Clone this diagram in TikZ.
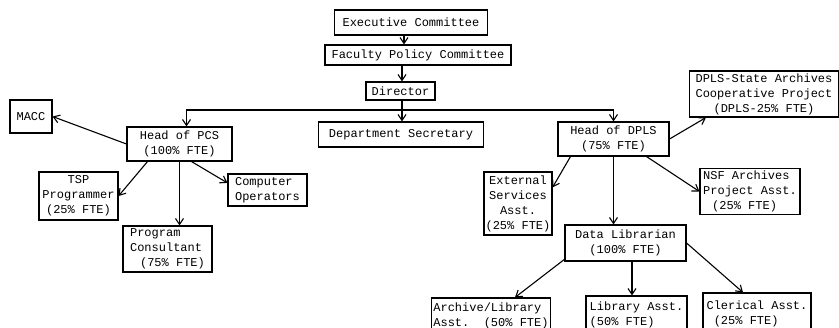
\documentclass[tikz,border=0pt]{standalone}
\usepackage{fontspec}
\setmonofont{Liberation Mono}
\usetikzlibrary{arrows.meta}
\begin{document}
\begin{tikzpicture}[x=1pt,y=-1pt,
    box/.style={draw,line width=1.1pt,inner sep=2pt,align=center,
      font=\ttfamily\fontsize{12}{15}\selectfont},
    link/.style={line width=1.1pt,->},
    >={Straight Barb[length=6pt,width=8pt]}]
  \useasboundingbox (0,0) rectangle (839,328);

  % top of the chart
  \node[box,minimum width=153pt,minimum height=25pt] (exec) at (411,22.5) {Executive Committee};
  \node[box,minimum width=186pt,minimum height=20pt] (fpc) at (418,55) {Faculty Policy Committee};
  \node[box,minimum width=69pt,minimum height=18pt] (dir) at (400.5,91) {Director};
  \node[box,minimum width=165pt,minimum height=25pt] (sec) at (401,134.5) {Department Secretary};
  \coordinate (J) at (402,110);

  % PCS side
  \node[box,minimum width=105pt,minimum height=34pt] (pcs) at (179.5,144) {Head of PCS\\(100\% FTE)};
  \node[box,minimum width=42pt,minimum height=33pt] (macc) at (31,116.5) {MACC};
  \node[box,minimum width=79pt,minimum height=48pt] (tsp) at (78.5,196) {TSP\\Programmer\\(25\% FTE)};
  \node[box,align=left,minimum width=89pt,minimum height=46pt] (cons) at (167.5,249) {Program\\Consultant\\\hspace*{10pt}(75\% FTE)};
  \node[box,align=left,minimum width=79pt,minimum height=32pt] (ops) at (267.5,190) {Computer\\Operators};

  % DPLS side
  \node[box,minimum width=111pt,minimum height=34pt] (dpls) at (613.5,139) {Head of DPLS\\(75\% FTE)};
  \node[box,minimum width=149pt,minimum height=46pt] (state) at (764,94) {DPLS-State Archives\\Cooperative Project\\(DPLS-25\% FTE)};
  \node[box,inner sep=1pt,minimum width=68pt,minimum height=63pt] (ext) at (518,203.5) {External\\Services\\Asst.\\(25\% FTE)};
  \node[box,align=left,minimum width=100pt,minimum height=43pt] (nsf) at (750,191.5) {NSF Archives\\Project Asst.\\\hspace*{9pt}(25\% FTE)};
  \node[box,minimum width=121pt,minimum height=36pt] (lib) at (625.5,243) {Data Librarian\\(100\% FTE)};
  \node[box,align=left,minimum width=118pt,minimum height=36pt] (arch) at (491,316) {Archive/Library\\Asst.~~(50\% FTE)};
  \node[box,align=left,minimum width=101pt,minimum height=38pt] (libasst) at (636.5,315) {Library Asst.\\(50\% FTE)};
  \node[box,align=left,minimum width=108pt,minimum height=41pt] (cler) at (757,313.5) {Clerical Asst.\\~(25\% FTE)};

  % connectors
  \draw[link] ([xshift=-7pt]exec.south) -- ([xshift=-7pt]exec.south |- fpc.north);
  \draw[link] (fpc.south -| J) -- (dir.north -| J);
  \draw[link] (dir.south -| J) -- (sec.north -| J);
  \draw[line width=1.1pt,<->] ([xshift=7pt]pcs.north) |- (J) -| (dpls.north);

  \draw[link] (pcs.west) -- (macc.east);
  \draw[link] ([xshift=-32pt]pcs.south) -- (tsp.east);
  \draw[link] (pcs.south) -- (pcs.south |- cons.north);
  \draw[link] ([xshift=12pt]pcs.south) -- (ops.170);

  \draw[link] (dpls.east) -- ([xshift=17pt]state.south west);
  \draw[link] ([xshift=-43pt]dpls.south) -- (ext.25);
  \draw[link] (dpls.south) -- (dpls.south |- lib.north);
  \draw[link] ([xshift=33pt]dpls.south) -- (nsf.west);

  \draw[link] (lib.195) -- ([xshift=24pt]arch.north);
  \draw[link] ([xshift=6.5pt]lib.south) -- ([xshift=6.5pt]lib.south |- libasst.north);
  \draw[link] (lib.east) -- ([xshift=-14pt]cler.north);
\end{tikzpicture}
\end{document}
